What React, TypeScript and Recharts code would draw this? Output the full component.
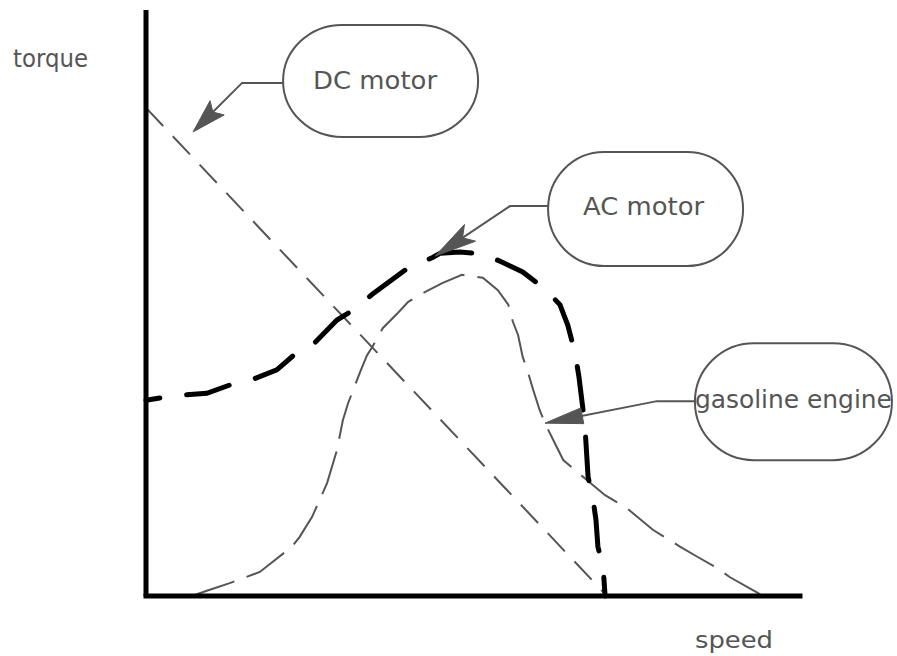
import React from 'react';
import { LineChart, Line, XAxis, YAxis, ReferenceDot, Label } from 'recharts';

// speed (0-100) vs torque (0-100)
const dcMotor = [
  { speed: 0, torque: 83.3 },
  { speed: 70.5, torque: 0 },
];

const acMotor = [
  { speed: 0, torque: 33.4 }, { speed: 2.1, torque: 33.8 }, { speed: 5.7, torque: 34.3 },
  { speed: 9.3, torque: 34.6 }, { speed: 12.8, torque: 36.0 }, { speed: 16.2, torque: 36.9 },
  { speed: 20.0, torque: 38.6 }, { speed: 22.5, torque: 41.0 }, { speed: 25.8, torque: 43.2 },
  { speed: 29.2, torque: 47.1 }, { speed: 31.7, torque: 48.8 }, { speed: 34.6, torque: 51.5 },
  { speed: 40.1, torque: 56.0 }, { speed: 43.9, torque: 57.8 }, { speed: 45.0, torque: 58.5 },
  { speed: 48.0, torque: 58.7 }, { speed: 51.4, torque: 58.4 }, { speed: 54.4, torque: 57.0 },
  { speed: 57.6, torque: 55.3 }, { speed: 61.0, torque: 52.4 }, { speed: 63.3, torque: 49.7 },
  { speed: 64.5, torque: 46.2 }, { speed: 65.6, torque: 41.5 }, { speed: 66.2, torque: 37.4 },
  { speed: 66.7, torque: 32.9 }, { speed: 67.1, torque: 29.2 }, { speed: 67.6, torque: 20.3 },
  { speed: 68.3, torque: 16.9 }, { speed: 68.8, torque: 13.0 }, { speed: 69.1, torque: 8.4 },
  { speed: 69.9, torque: 4.8 }, { speed: 70.2, torque: 0 },
];

const gasolineEngine = [
  { speed: 7.0, torque: 0 }, { speed: 9.3, torque: 0.9 }, { speed: 12.8, torque: 2.2 },
  { speed: 17.4, torque: 4.1 }, { speed: 19.0, torque: 5.5 }, { speed: 22.3, torque: 8.4 },
  { speed: 23.5, torque: 10.1 }, { speed: 25.4, torque: 13.5 }, { speed: 27.7, torque: 19.3 },
  { speed: 29.2, torque: 24.9 }, { speed: 30.1, torque: 30.0 }, { speed: 30.9, torque: 32.9 },
  { speed: 32.7, torque: 38.1 }, { speed: 33.8, torque: 41.1 }, { speed: 34.6, torque: 42.5 },
  { speed: 36.2, torque: 45.7 }, { speed: 38.5, torque: 48.3 }, { speed: 40.1, torque: 50.2 },
  { speed: 42.7, torque: 51.9 }, { speed: 45.3, torque: 53.4 }, { speed: 48.3, torque: 54.8 },
  { speed: 51.5, torque: 54.3 }, { speed: 53.8, torque: 52.2 }, { speed: 55.4, torque: 49.7 },
  { speed: 56.1, torque: 46.8 }, { speed: 56.9, torque: 44.5 }, { speed: 57.6, torque: 40.8 },
  { speed: 58.4, torque: 38.2 }, { speed: 59.2, torque: 35.2 }, { speed: 60.2, torque: 31.7 },
  { speed: 61.0, torque: 29.5 }, { speed: 62.5, torque: 26.1 }, { speed: 63.8, torque: 23.2 },
  { speed: 65.6, torque: 21.5 }, { speed: 67.4, torque: 19.8 }, { speed: 70.2, torque: 17.2 },
  { speed: 73.5, torque: 15.0 }, { speed: 77.5, torque: 11.3 }, { speed: 81.7, torque: 8.4 },
  { speed: 84.3, torque: 6.7 }, { speed: 87.3, torque: 4.8 }, { speed: 89.3, torque: 3.2 },
  { speed: 93.6, torque: 0.5 }, { speed: 94.2, torque: 0 },
];

// callout arrow tips (in speed/torque units)
const calloutLabels = ['DC motor', 'AC motor', 'gasoline engine'];
const calloutSpeed = [7.2, 44.2, 61.0];
const calloutTorque = [79.2, 58.0, 29.5];

const axisTitles = { x: 'speed', y: 'torque' };

const GRAY = '#555';
const FONT = '"DejaVu Sans", sans-serif';

// layout of each callout relative to its arrow tip (pixels)
const calloutLayout = [
  { ex: 49, ey: -49, bx: 90, by: -107, bw: 195, bh: 112, rx: 59, tx: 120, ty: -43, tl: 124, L: 34, W: 10, N: 6 },
  { ex: 75, ey: -50, bx: 113, by: -104, bw: 195, bh: 114, rx: 56, tx: 148, ty: -41, tl: 121, L: 42, W: 10, N: 9 },
  { ex: 112, ey: -22, bx: 150, by: -80, bw: 197, bh: 117, rx: 59, tx: 150, ty: -15, tl: 197, L: 38, W: 8, N: 0 },
];

const makeCallout = (i: number) => (props: any) => {
  const { cx, cy } = props;
  if (cx == null || cy == null) return <g />;
  const c = calloutLayout[i];
  const ex = cx + c.ex;
  const ey = cy + c.ey;
  const dx = ex - cx;
  const dy = ey - cy;
  const len = Math.sqrt(dx * dx + dy * dy);
  const ux = dx / len;
  const uy = dy / len;
  const px = -uy;
  const py = ux;
  const p1 = `${cx},${cy}`;
  const p2 = `${cx + ux * c.L + px * c.W},${cy + uy * c.L + py * c.W}`;
  const p3 = `${cx + ux * (c.L - c.N)},${cy + uy * (c.L - c.N)}`;
  const p4 = `${cx + ux * c.L - px * c.W},${cy + uy * c.L - py * c.W}`;
  return (
    <g>
      <polyline
        points={`${cx + c.bx},${cy + c.ey} ${ex},${ey} ${cx + ux * 10},${cy + uy * 10}`}
        fill="none"
        stroke={GRAY}
        strokeWidth={2}
      />
      <polygon points={`${p1} ${p2} ${p3} ${p4}`} fill={GRAY} stroke={GRAY} strokeWidth={1} />
      <rect
        x={cx + c.bx}
        y={cy + c.by}
        width={c.bw}
        height={c.bh}
        rx={c.rx}
        ry={c.bh / 2}
        fill="none"
        stroke={GRAY}
        strokeWidth={2}
      />
      <text
        x={cx + c.tx}
        y={cy + c.ty}
        fontFamily={FONT}
        fontSize={24}
        fill={GRAY}
        textLength={c.tl}
        lengthAdjust="spacingAndGlyphs"
      >
        {calloutLabels[i]}
      </text>
    </g>
  );
};

const SpeedTitle = (props: any) => {
  const vb = props.viewBox || {};
  return (
    <text x={vb.x + vb.width - 105} y={vb.y + 52} fontFamily={FONT} fontSize={23} fill={GRAY}
      textLength={78} lengthAdjust="spacingAndGlyphs">
      {axisTitles.x}
    </text>
  );
};

const TorqueTitle = (props: any) => {
  const vb = props.viewBox || {};
  return (
    <text x={vb.x + vb.width - 133} y={vb.y + 57} fontFamily={FONT} fontSize={24} fill={GRAY}
      textLength={75} lengthAdjust="spacingAndGlyphs">
      {axisTitles.y}
    </text>
  );
};

export default function App() {
  return (
    <div style={{ position: 'absolute', left: 0, top: 0, width: 897, height: 656, background: '#fff' }}>
      <LineChart width={897} height={656} margin={{ top: 10, right: 97, bottom: 59, left: 145 }}>
        <XAxis
          type="number"
          dataKey="speed"
          domain={[0, 100]}
          tick={false}
          tickLine={false}
          height={1}
          axisLine={{ stroke: '#000', strokeWidth: 5, strokeLinecap: 'square' }}
        >
          <Label content={SpeedTitle} />
        </XAxis>
        <YAxis
          type="number"
          dataKey="torque"
          domain={[0, 100]}
          tick={false}
          tickLine={false}
          width={1}
          axisLine={{ stroke: '#000', strokeWidth: 5 }}
        >
          <Label content={TorqueTitle} />
        </YAxis>
        <Line
          data={dcMotor}
          dataKey="torque"
          type="linear"
          stroke={GRAY}
          strokeWidth={2}
          strokeDasharray="25 14"
          dot={false}
          activeDot={false}
          isAnimationActive={false}
        />
        <Line
          data={gasolineEngine}
          dataKey="torque"
          type="linear"
          stroke={GRAY}
          strokeWidth={2}
          strokeDasharray="45 13"
          dot={false}
          activeDot={false}
          isAnimationActive={false}
        />
        <Line
          data={acMotor}
          dataKey="torque"
          type="linear"
          stroke="#000"
          strokeWidth={5}
          strokeLinecap="round"
          strokeDasharray="44 27"
          strokeDashoffset={30}
          dot={false}
          activeDot={false}
          isAnimationActive={false}
        />
        {calloutLabels.map((label, i) => (
          <ReferenceDot
            key={label}
            x={calloutSpeed[i]}
            y={calloutTorque[i]}
            r={0}
            ifOverflow="visible"
            shape={makeCallout(i)}
          />
        ))}
      </LineChart>
    </div>
  );
}
